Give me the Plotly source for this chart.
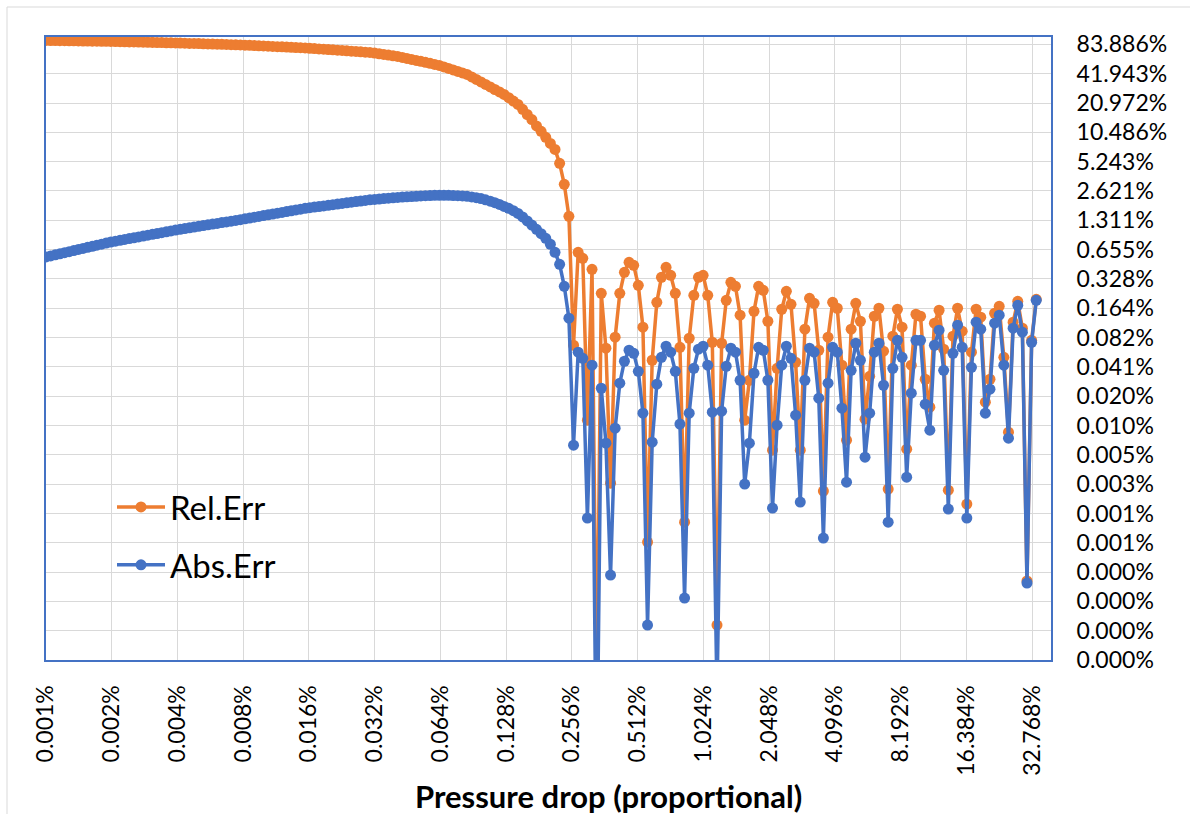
import math
import plotly.graph_objects as go

# ---------------- data (percent units) ----------------
x_pct = [
    0.001, 0.00105, 0.001103, 0.001158, 0.001216, 0.001276, 0.00134, 0.001407, 0.001477, 0.001551,
    0.001629, 0.00171, 0.001796, 0.001886, 0.00198, 0.002079, 0.002183, 0.002292, 0.002407, 0.002527,
    0.002653, 0.002786, 0.002925, 0.003072, 0.003225, 0.003386, 0.003556, 0.003733, 0.00392, 0.004116,
    0.004322, 0.004538, 0.004765, 0.005003, 0.005253, 0.005516, 0.005792, 0.006081, 0.006385, 0.006705,
    0.00704, 0.007392, 0.007762, 0.00815, 0.008557, 0.008985, 0.009434, 0.009906, 0.0104, 0.01092,
    0.01147, 0.01204, 0.01264, 0.01327, 0.01394, 0.01464, 0.01537, 0.01614, 0.01694, 0.01779,
    0.01868, 0.01961, 0.02059, 0.02162, 0.0227, 0.02384, 0.02503, 0.02628, 0.0276, 0.02898,
    0.03043, 0.03195, 0.03355, 0.03522, 0.03698, 0.03883, 0.04077, 0.04281, 0.04495, 0.0472,
    0.04956, 0.05204, 0.05464, 0.05737, 0.06024, 0.06325, 0.06642, 0.06974, 0.07322, 0.07689,
    0.08073, 0.08477, 0.08901, 0.09346, 0.09813, 0.103, 0.1082, 0.1136, 0.1193, 0.1252,
    0.1315, 0.1381, 0.145, 0.1522, 0.1598, 0.1678, 0.1762, 0.185, 0.1943, 0.204,
    0.2142, 0.2249, 0.2362, 0.248, 0.2604, 0.2734, 0.2871, 0.3014, 0.3165, 0.3323,
    0.3489, 0.3664, 0.3847, 0.4039, 0.4241, 0.4453, 0.4676, 0.491, 0.5155, 0.5413,
    0.5683, 0.5968, 0.6266, 0.6579, 0.6908, 0.7254, 0.7616, 0.7997, 0.8397, 0.8817,
    0.9258, 0.9721, 1.021, 1.072, 1.125, 1.182, 1.241, 1.303, 1.368, 1.436,
    1.508, 1.583, 1.663, 1.746, 1.833, 1.925, 2.021, 2.122, 2.228, 2.339,
    2.456, 2.579, 2.708, 2.844, 2.986, 3.135, 3.292, 3.456, 3.629, 3.811,
    4.001, 4.201, 4.411, 4.632, 4.863, 5.107, 5.362, 5.63, 5.911, 6.207,
    6.517, 6.843, 7.185, 7.545, 7.922, 8.318, 8.734, 9.171, 9.629, 10.11,
    10.62, 11.15, 11.7, 12.29, 12.9, 13.55, 14.23, 14.94, 15.68, 16.47,
    17.29, 18.16, 19.07, 20.02, 21.02, 22.07, 23.17, 24.33, 25.55, 26.83,
    28.17, 29.58, 31.05, 32.61, 34.24,
]

rel_err_pct = [
    92.2, 92.0, 91.9, 91.7, 91.6, 91.4, 91.3, 91.1, 90.9, 90.8,
    90.6, 90.5, 90.3, 90.2, 90.05, 89.8, 89.6, 89.4, 89.1, 88.9,
    88.7, 88.5, 88.2, 88.0, 87.8, 87.6, 87.3, 87.1, 86.9, 86.6,
    86.3, 86.0, 85.8, 85.5, 85.2, 84.9, 84.6, 84.3, 84.0, 83.8,
    83.5, 83.2, 82.9, 82.5, 82.1, 81.7, 81.3, 80.9, 80.5, 80.1,
    79.6, 79.2, 78.8, 78.4, 78.0, 77.6, 77.2, 76.6, 76.0, 75.5,
    74.9, 74.3, 73.8, 73.2, 72.7, 72.1, 71.6, 71.0, 70.5, 69.9,
    69.4, 68.3, 67.3, 66.2, 65.2, 64.2, 63.2, 61.7, 60.3, 58.9,
    57.5, 56.2, 54.9, 53.6, 52.3, 51.1, 49.3, 47.6, 45.9, 44.3,
    42.8, 41.3, 38.9, 36.7, 34.6, 32.6, 30.7, 28.9, 27.3, 25.7,
    23.8, 22.0, 20.3, 18.1, 16.0, 14.2, 12.2, 10.75, 9.32, 8.08,
    7.01, 5.04, 3.07, 1.441, 0.0683, 0.615, 0.534, 0.01162, 0.4116, 0.0000155,
    0.2333, 0.0637, 0.002617, 0.0826, 0.2333, 0.3834, 0.4857, 0.4523, 0.2818, 0.1046,
    0.00065, 0.0479, 0.1886, 0.3407, 0.4317, 0.3572, 0.2333, 0.0651, 0.001042, 0.0806,
    0.2226, 0.3407, 0.3572, 0.2226, 0.0733, 0.0000914, 0.0716, 0.1976, 0.3024, 0.2752,
    0.1389, 0.01162, 0.02986, 0.1526, 0.2752, 0.2504, 0.1205, 0.005712, 0.03963, 0.16,
    0.2445, 0.18, 0.0457, 0.005712, 0.0998, 0.2073, 0.1841, 0.0607, 0.00217, 0.0826,
    0.1886, 0.1638, 0.0426, 0.00724, 0.0998, 0.1841, 0.1205, 0.0119, 0.0328, 0.1356,
    0.1638, 0.0593, 0.002275, 0.0846, 0.16, 0.1046, 0.00585, 0.0426, 0.1422, 0.1356,
    0.03056, 0.0158, 0.115, 0.1563, 0.0622, 0.00222, 0.0846, 0.1638, 0.0952, 0.001597,
    0.0579, 0.16, 0.1325, 0.01778, 0.03056, 0.1456, 0.1716, 0.0514, 0.00874, 0.1177,
    0.1931, 0.1022, 0.000259, 0.0768, 0.2025,
]

abs_err_pct = [
    0.551, 0.565, 0.580, 0.594, 0.610, 0.625, 0.641, 0.658, 0.674, 0.692,
    0.709, 0.728, 0.746, 0.765, 0.785, 0.801, 0.817, 0.833, 0.850, 0.867,
    0.885, 0.903, 0.921, 0.940, 0.959, 0.979, 0.999, 1.019, 1.040, 1.058,
    1.077, 1.096, 1.116, 1.136, 1.156, 1.177, 1.198, 1.219, 1.241, 1.263,
    1.285, 1.308, 1.331, 1.357, 1.383, 1.410, 1.437, 1.465, 1.493, 1.522,
    1.551, 1.581, 1.612, 1.643, 1.675, 1.707, 1.740, 1.765, 1.791, 1.817,
    1.843, 1.870, 1.897, 1.925, 1.953, 1.981, 2.010, 2.039, 2.069, 2.099,
    2.13, 2.149, 2.169, 2.189, 2.209, 2.229, 2.249, 2.27, 2.285, 2.30,
    2.315, 2.33, 2.345, 2.355, 2.365, 2.37, 2.37, 2.365, 2.355, 2.345,
    2.33, 2.31, 2.28, 2.24, 2.19, 2.13, 2.06, 1.99, 1.91, 1.82,
    1.74, 1.645, 1.543, 1.42, 1.29, 1.17, 1.06, 0.955, 0.855, 0.744,
    0.615, 0.463, 0.275, 0.1294, 0.00643, 0.0579, 0.0502, 0.001146, 0.0426, 0.0000015,
    0.0247, 0.006744, 0.000298, 0.0096, 0.02782, 0.0468, 0.0607, 0.0565, 0.0369, 0.01371,
    0.0000914, 0.0069, 0.02717, 0.0514, 0.0667, 0.0579, 0.0369, 0.01058, 0.000173, 0.01371,
    0.0396, 0.0622, 0.0667, 0.0426, 0.01404, 0.0000175, 0.01437, 0.04157, 0.0637, 0.0579,
    0.02986, 0.00256, 0.006744, 0.03523, 0.0651, 0.0607, 0.02986, 0.001453, 0.01033, 0.0426,
    0.0667, 0.0502, 0.01308, 0.001674, 0.02986, 0.0637, 0.0579, 0.01954, 0.000714, 0.02782,
    0.0651, 0.0579, 0.01543, 0.002682, 0.0378, 0.0716, 0.0479, 0.004838, 0.01371, 0.0579,
    0.0716, 0.02652, 0.001042, 0.0396, 0.0768, 0.0514, 0.003018, 0.02197, 0.0768, 0.0768,
    0.01696, 0.009165, 0.0683, 0.0975, 0.0378, 0.001419, 0.0565, 0.1097, 0.0651, 0.001146,
    0.04057, 0.1177, 0.0998, 0.01371, 0.02414, 0.115, 0.1389, 0.0426, 0.00759, 0.1022,
    0.1758, 0.093, 0.000247, 0.0733, 0.1976,
]

x_tick_vals = [0.001, 0.002, 0.004, 0.008, 0.016, 0.032, 0.064, 0.128,
               0.256, 0.512, 1.024, 2.048, 4.096, 8.192, 16.384, 32.768]
x_tick_text = ["0.001%", "0.002%", "0.004%", "0.008%", "0.016%", "0.032%", "0.064%", "0.128%",
               "0.256%", "0.512%", "1.024%", "2.048%", "4.096%", "8.192%", "16.384%", "32.768%"]

y_tick_vals = [0.00004, 0.00008, 0.00016, 0.00032, 0.00064, 0.00128, 0.00256, 0.00512,
               0.01024, 0.02048, 0.04096, 0.08192, 0.16384, 0.32768, 0.65536, 1.31072,
               2.62144, 5.24288, 10.48576, 20.97152, 41.94304, 83.88608]
y_tick_text = ["0.000%", "0.000%", "0.000%", "0.000%", "0.001%", "0.001%", "0.003%", "0.005%",
               "0.010%", "0.020%", "0.041%", "0.082%", "0.164%", "0.328%", "0.655%", "1.311%",
               "2.621%", "5.243%", "10.486%", "20.972%", "41.943%", "83.886%"]

series_names = ["Rel.Err", "Abs.Err"]
x_title = "Pressure drop (proportional)"

# ---------------- style ----------------
ORANGE = "#ED7D31"
BLUE = "#4472C4"
GRID = "#D9D9D9"
FONT = "Lato, Carlito, Calibri, sans-serif"
W, H = 1190, 814
ML, MR, MT, MB = 46, 139, 37, 154
PW = W - ML - MR
PH = H - MT - MB


def px_x(px):
    return (px - ML) / PW


def px_y(py):
    return (H - MB - py) / PH


fig = go.Figure()
fig.add_trace(go.Scatter(
    x=x_pct, y=rel_err_pct, mode="lines+markers", name=series_names[0],
    legendgroup="rel",
    line=dict(color=ORANGE, width=3.5),
    marker=dict(color=ORANGE, size=11),
))
fig.add_trace(go.Scatter(
    x=x_pct, y=abs_err_pct, mode="lines+markers", name=series_names[1],
    legendgroup="abs",
    line=dict(color=BLUE, width=3.5),
    marker=dict(color=BLUE, size=11),
))

fig.update_layout(
    width=W, height=H,
    margin=dict(l=ML, r=MR, t=MT, b=MB, autoexpand=False),
    plot_bgcolor="white", paper_bgcolor="white",
    font=dict(family=FONT, color="black"),
    showlegend=True,
    legend=dict(
        x=px_x(112), y=px_y(479), xanchor="left", yanchor="top",
        font=dict(size=33, family=FONT, color="black"),
        bgcolor="rgba(0,0,0,0)", traceorder="grouped", tracegroupgap=12,
        itemwidth=48,
    ),
    shapes=[dict(
        type="rect", xref="paper", yref="paper",
        x0=px_x(7), x1=px_x(1205), y0=px_y(830), y1=px_y(7),
        line=dict(color=GRID, width=1), fillcolor="rgba(0,0,0,0)", layer="below",
    )],
    annotations=[dict(
        text="<b>" + x_title + "</b>", xref="paper", yref="paper",
        x=px_x(608), y=px_y(796), xanchor="center", yanchor="middle",
        showarrow=False, font=dict(size=31, family=FONT, color="black"),
    )],
)

fig.update_xaxes(
    type="log", range=[math.log10(0.001), math.log10(40)],
    tickmode="array", tickvals=x_tick_vals, ticktext=x_tick_text,
    tickangle=-90, tickfont=dict(size=23, family=FONT, color="black"),
    showgrid=True, gridcolor=GRID, gridwidth=1,
    showline=True, linecolor=BLUE, linewidth=2, mirror=True,
    ticks="", ticklabelstandoff=14, zeroline=False, automargin=False,
)
fig.update_yaxes(
    type="log", side="right", range=[math.log10(0.00004), 2],
    tickmode="array", tickvals=y_tick_vals, ticktext=y_tick_text,
    tickfont=dict(size=23, family=FONT, color="black"),
    showgrid=True, gridcolor=GRID, gridwidth=1,
    showline=True, linecolor=BLUE, linewidth=2, mirror=True,
    ticks="", ticklabelstandoff=19, zeroline=False, automargin=False,
)

fig.write_html(
    "out.html",
    config={"displayModeBar": False},
    post_script="document.body.style.margin='0px';document.body.style.overflow='hidden';",
)
